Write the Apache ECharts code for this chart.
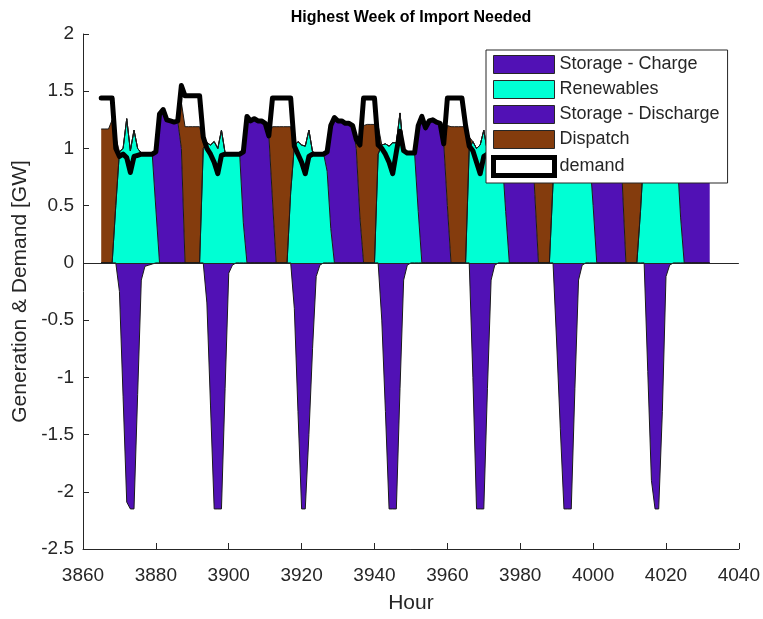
<!DOCTYPE html>
<html>
<head>
<meta charset="utf-8">
<title>Highest Week of Import Needed</title>
<script src="https://cdn.jsdelivr.net/npm/echarts@6/dist/echarts.min.js"></script>
<style>
html,body{margin:0;padding:0;background:#fff;}
#chart{width:763px;height:619px;}
</style>
</head>
<body>
<div id="chart"></div>
<script>
// axis runs 3860..4040, data covers one week from 3865 to 4032
var axisStart = 3860;
var axisEnd = 4040;
var startHour = 3865;
var tickStep = 20;

var yTicks = [-2.5, -2, -1.5, -1, -0.5, 0, 0.5, 1, 1.5, 2];

// GW
var storageCharge = [
	0,0,0,0,0,-0.25,-1.17,-2.09,-2.15,-2.15,-1.15,-0.15,-0.03,-0.02,-0.01,0,0,0,0,0,0,0,0,0,
	0,0,0,0,0,-0.35,-1.25,-2.15,-2.15,-2.15,-1.1,-0.09,-0.02,0,0,0,0,0,0,0,0,0,0,0,
	0,0,0,0,0,-0.4,-1.3,-2.15,-2.15,-1.5,-0.75,-0.12,-0.02,0,0,0,0,0,0,0,0,0,0,0,
	0,0,0,0,0,-0.5,-1.3,-2.15,-2.15,-2.15,-1.1,-0.15,-0.02,0,0,0,0,0,0,0,0,0,0,0,
	0,0,0,0,0,0,-1.0,-2.15,-2.15,-2.15,-1.1,-0.15,-0.02,0,0,0,0,0,0,0,0,0,0,0,
	0,0,0,0,0,-0.7,-1.45,-2.15,-2.15,-2.15,-1.1,-0.15,-0.02,0,0,0,0,0,0,0,0,0,0,0,
	0,0,0,0,0,0,-0.95,-1.9,-2.15,-2.15,-1.3,-0.12,-0.02,0,0,0,0,0,0,0,0,0,0,0
];
var renewables = [
	0,0,0,0,0.5,0.97,1.0,1.26,0.98,1.16,1.0,0.96,0.96,0.96,0.95,0.47,0,0,0,0,0,0,0,0,
	0,0,0,0,1.0,1.05,1.03,1.06,1.0,1.16,0.96,0.96,0.96,0.96,0.95,0.35,0,0,0,0,0,0,0,0,
	0,0,0,0,0.62,1.02,1.06,1.03,1.02,1.16,0.97,0.96,0.96,0.96,0.8,0.3,0,0,0,0,0,0,0,0,
	0,0,0,0,0.95,1.03,1.04,1.02,1.05,1.05,1.31,0.97,0.96,0.96,0.96,0.45,0,0,0,0,0,0,0,0,
	0,0,0,0,0,1.0,1.06,1.0,1.03,1.16,0.97,0.96,0.96,0.96,0.95,0.45,0,0,0,0,0,0,0,0,
	0,0,0,0,0.7,1.0,1.05,1.03,1.0,1.15,0.96,0.96,0.96,0.96,0.96,0.5,0,0,0,0,0,0,0,0,
	0,0,0,0,0.45,1.0,1.05,1.03,1.0,1.15,0.96,0.96,0.96,0.96,0.96,0.4,0,0,0,0,0,0,0,0
];
var storageDischarge = [
	0,0,0,0,0,0,0,0,0,0,0,0,0,0,0,0.5,1.3,1.34,1.25,1.24,1.23,1.24,1.0,0,
	0,0,0,0,0,0,0,0,0,0,0,0,0,0,0,0.62,1.27,1.24,1.26,1.24,1.24,1.22,1.12,0.55,
	0,0,0,0,0,0,0,0,0,0,0,0,0,0,0.17,0.9,1.27,1.24,1.24,1.22,1.22,1.2,1.0,0.4,
	0,0,0,0,0,0,0,0,0,0,0,0,0,0,0,0.75,1.28,1.18,1.24,1.25,1.23,1.22,1.05,0.5,
	0,0,0,0,0,0,0,0,0,0,0,0,0,0,0,0.75,1.28,1.22,1.25,1.24,1.23,1.24,1.24,0.6,
	0,0,0,0,0,0,0,0,0,0,0,0,0,0,0,0.7,1.28,1.22,1.25,1.24,1.23,1.22,1.22,0.7,
	0,0,0,0,0,0,0,0,0,0,0,0,0,0,0,0.8,1.28,1.22,1.25,1.24,1.24,1.23,1.22,1.2
];
var dispatch = [
	1.17,1.17,1.17,1.25,0.6,0,0,0,0,0,0,0,0,0,0,0,0,0,0,0,0,0,0.4,1.19,
	1.19,1.19,1.19,1.19,0.05,0,0,0,0,0,0,0,0,0,0,0,0,0,0,0,0,0,0,0.64,
	1.19,1.19,1.19,1.19,0.57,0,0,0,0,0,0,0,0,0,0,0,0,0,0,0,0,0,0.08,0.65,
	1.2,1.21,1.21,1.21,0.25,0,0,0,0,0,0,0,0,0,0,0,0,0,0,0,0,0,0,0.7,
	1.19,1.19,1.19,1.19,1.19,0.1,0,0,0,0,0,0,0,0,0,0,0,0,0,0,0,0,0,0.6,
	1.2,1.2,1.2,1.2,0.5,0,0,0,0,0,0,0,0,0,0,0,0,0,0,0,0,0,0,0.5,
	1.2,1.2,1.2,1.2,0.75,0,0,0,0,0,0,0,0,0,0,0,0,0,0,0,0,0,0,0
];
var demand = [
	1.44,1.44,1.44,1.44,1.0,0.93,0.95,0.92,0.79,0.93,0.94,0.95,0.95,0.95,0.95,0.97,1.3,1.34,1.25,1.24,1.23,1.24,1.55,1.46,
	1.46,1.46,1.46,1.46,1.1,1.0,0.95,0.88,0.78,0.94,0.95,0.95,0.95,0.95,0.95,0.97,1.28,1.24,1.26,1.24,1.24,1.22,1.11,1.44,
	1.44,1.44,1.44,1.44,1.44,1.02,0.95,0.88,0.78,0.93,0.95,0.95,0.95,0.95,0.97,1.2,1.27,1.24,1.24,1.22,1.22,1.2,1.08,1.03,
	1.44,1.44,1.44,1.44,1.03,1.0,0.95,0.88,0.78,0.97,1.15,0.98,0.96,0.96,0.96,1.2,1.28,1.18,1.24,1.25,1.23,1.22,1.04,1.44,
	1.44,1.44,1.44,1.44,1.2,1.02,0.98,0.88,0.78,0.93,0.95,0.95,0.95,0.95,0.95,1.2,1.28,1.22,1.25,1.24,1.23,1.24,1.24,1.44,
	1.44,1.44,1.44,1.44,1.1,1.0,0.95,0.88,0.78,0.93,0.95,0.95,0.95,0.95,0.96,1.2,1.28,1.22,1.25,1.24,1.23,1.22,1.22,1.44,
	1.44,1.44,1.44,1.44,1.1,1.0,0.95,0.88,0.78,0.93,0.95,0.95,0.95,0.95,0.96,1.2,1.28,1.22,1.25,1.24,1.24,1.23,1.22,1.2
];

// hour categories along the whole axis
var hours = [];
for (var h = axisStart; h <= axisEnd; h++) {
	hours.push(String(h));
}

var FONT = '"Liberation Sans", Arial, Helvetica, sans-serif';
var TEXT = '#262626';
var PURPLE = '#5111b5';
var CYAN = '#00ffd4';
var BROWN = '#843c0d';

// place the week's values on the full hour axis, '-' outside it
function onAxis(vals){
	return hours.map(function(label){
		var k = Number(label) - startHour;
		return (k >= 0 && k < vals.length) ? vals[k] : '-';
	});
}

function isTick(idx, label){
	return Number(label) % tickStep === 0;
}

function areaSeries(name, vals, color, stack){
	var s = {
		name: name,
		type: 'line',
		data: onAxis(vals),
		symbol: 'none',
		showSymbol: false,
		lineStyle: {color: '#1a1a1a', width: 1},
		itemStyle: {color: color},
		areaStyle: {color: color, opacity: 1},
		emphasis: {disabled: true}
	};
	if (stack) s.stack = stack;
	return s;
}

function initChart(){
	var chart = echarts.init(document.getElementById('chart'), null, {renderer: 'canvas'});
	var option = {
		animation: false,
		backgroundColor: '#fff',
		textStyle: {fontFamily: FONT, color: TEXT},
		graphic: [{
			type: 'text',
			x: 411,
			y: 18,
			style: {
				text: 'Highest Week of Import Needed',
				font: 'bold 16px ' + FONT,
				fill: '#000',
				align: 'center',
				verticalAlign: 'middle'
			}
		}],
		grid: {left: 83, right: 22, top: 34, bottom: 64, containLabel: false},
		legend: {
			orient: 'vertical',
			left: 486,
			top: 50,
			padding: [5, 8, 5, 5],
			itemGap: 6,
			itemWidth: 61,
			itemHeight: 18,
			backgroundColor: '#fff',
			borderColor: TEXT,
			borderWidth: 1,
			icon: 'rect',
			selectedMode: false,
			itemStyle: {borderColor: TEXT, borderWidth: 1},
			textStyle: {fontFamily: FONT, fontSize: 18, color: TEXT},
			data: [
				{name: 'Storage - Charge'},
				{name: 'Renewables'},
				{name: 'Storage - Discharge'},
				{name: 'Dispatch'},
				{name: 'demand', icon: 'rect', itemStyle: {color: '#fff', borderColor: '#000', borderWidth: 5}}
			]
		},
		xAxis: {
			type: 'category',
			data: hours,
			boundaryGap: false,
			name: 'Hour',
			nameLocation: 'middle',
			nameGap: 44,
			nameTextStyle: {fontFamily: FONT, fontSize: 21, color: TEXT},
			axisLine: {onZero: false, lineStyle: {color: TEXT, width: 1}},
			axisTick: {inside: true, length: 6, interval: isTick, lineStyle: {color: TEXT}},
			axisLabel: {fontFamily: FONT, fontSize: 19, color: TEXT, margin: 17, interval: isTick},
			splitLine: {show: false}
		},
		yAxis: {
			type: 'value',
			min: yTicks[0],
			max: yTicks[yTicks.length - 1],
			interval: 0.5,
			name: 'Generation & Demand [GW]',
			nameLocation: 'middle',
			nameGap: 48,
			nameTextStyle: {fontFamily: FONT, fontSize: 21, color: TEXT},
			axisLine: {show: true, lineStyle: {color: TEXT, width: 1}},
			axisTick: {show: true, inside: true, length: 6, lineStyle: {color: TEXT}},
			axisLabel: {fontFamily: FONT, fontSize: 19, color: TEXT, margin: 9},
			splitLine: {show: false}
		},
		series: [
			areaSeries('Storage - Charge', storageCharge, PURPLE, null),
			areaSeries('Renewables', renewables, CYAN, 'gen'),
			areaSeries('Storage - Discharge', storageDischarge, PURPLE, 'gen'),
			areaSeries('Dispatch', dispatch, BROWN, 'gen'),
			{
				name: 'demand',
				type: 'line',
				data: onAxis(demand),
				symbol: 'none',
				showSymbol: false,
				itemStyle: {color: '#000'},
				lineStyle: {color: '#000', width: 5, cap: 'round', join: 'round'},
				emphasis: {disabled: true},
				markLine: {
					silent: true,
					symbol: 'none',
					label: {show: false},
					lineStyle: {color: TEXT, width: 1, type: 'solid'},
					emphasis: {disabled: true},
					data: [{yAxis: 0}]
				}
			}
		]
	};
	chart.setOption(option);
}
initChart();
</script>
</body>
</html>
